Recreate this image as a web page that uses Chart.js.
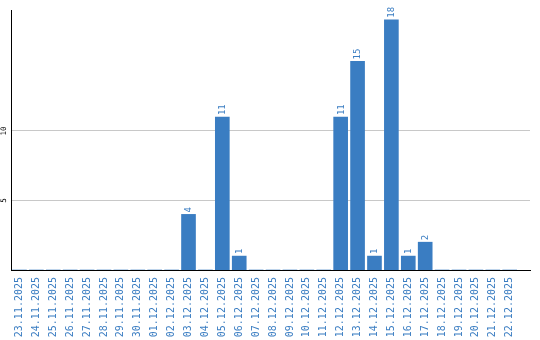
<!DOCTYPE html>
<html>
<head>
<meta charset="utf-8">
<script src="https://cdn.jsdelivr.net/npm/chart.js@4/dist/chart.umd.min.js"></script>
<style>
  html, body { margin: 0; padding: 0; background: #fff; }
  #wrap { width: 540px; height: 340px; }
</style>
</head>
<body>
<div id="wrap"><canvas id="c" width="540" height="340"></canvas></div>
<script>
const categories = ["23.11.2025","24.11.2025","25.11.2025","26.11.2025","27.11.2025","28.11.2025","29.11.2025","30.11.2025","01.12.2025","02.12.2025","03.12.2025","04.12.2025","05.12.2025","06.12.2025","07.12.2025","08.12.2025","09.12.2025","10.12.2025","11.12.2025","12.12.2025","13.12.2025","14.12.2025","15.12.2025","16.12.2025","17.12.2025","18.12.2025","19.12.2025","20.12.2025","21.12.2025","22.12.2025"];
const values = [0,0,0,0,0,0,0,0,0,0,4,0,11,1,0,0,0,0,0,11,15,1,18,1,2,0,0,0,0,0];
const yTicks = [5, 10];

const BLUE = '#3a7dc2';

const labelPlugin = {
  id: 'labels',
  afterDatasetsDraw(chart) {
    const ctx = chart.ctx;
    const meta = chart.getDatasetMeta(0);
    ctx.save();
    ctx.fillStyle = BLUE;
    ctx.font = '9px "DejaVu Sans Mono"';
    ctx.textAlign = 'left';
    ctx.textBaseline = 'middle';
    meta.data.forEach((bar, i) => {
      if (!values[i]) return;
      ctx.save();
      ctx.translate(bar.x + 0.5, bar.y - 2);
      ctx.rotate(-Math.PI / 2);
      ctx.fillText(String(values[i]), 0, 0);
      ctx.restore();
    });
    const ys = chart.scales.y;
    ctx.fillStyle = '#000';
    ctx.font = '7.5px "DejaVu Sans Mono"';
    ctx.textAlign = 'center';
    yTicks.forEach(v => {
      ctx.save();
      ctx.translate(4.5, ys.getPixelForValue(v));
      ctx.rotate(-Math.PI / 2);
      ctx.fillText(String(v), 0, 0);
      ctx.restore();
    });
    ctx.restore();
  }
};

new Chart(document.getElementById('c'), {
  type: 'bar',
  data: {
    datasets: [{
      data: values.map((v, i) => ({ x: i, y: v })),
      backgroundColor: BLUE,
      borderWidth: 0,
      barThickness: 14
    }]
  },
  options: {
    responsive: false,
    animation: false,
    events: [],
    layout: { padding: { left: 11, right: 10, top: 10, bottom: 0 } },
    plugins: { legend: { display: false }, tooltip: { enabled: false } },
    scales: {
      x: {
        type: 'linear',
        offset: false,
        min: -0.5,
        max: 30.2,
        afterBuildTicks(scale) { scale.ticks = categories.map((_, i) => ({ value: i })); },
        afterFit(scale) { scale.height = 70; },
        grid: { display: false, drawTicks: false, offset: false },
        border: { display: true, color: '#000', width: 1 },
        ticks: {
          autoSkip: false,
          minRotation: 90,
          maxRotation: 90,
          padding: 7,
          color: BLUE,
          font: { family: 'DejaVu Sans Mono', size: 10 },
          callback: (v) => categories[v] ?? ''
        }
      },
      y: {
        min: 0,
        max: 18.7,
        afterBuildTicks(scale) { scale.ticks = yTicks.map(v => ({ value: v })); },
        grid: { color: '#c8c8c8', lineWidth: 1, drawTicks: false },
        border: { display: true, color: '#000', width: 1 },
        ticks: { display: false }
      }
    }
  },
  plugins: [labelPlugin]
});
</script>
</body>
</html>
